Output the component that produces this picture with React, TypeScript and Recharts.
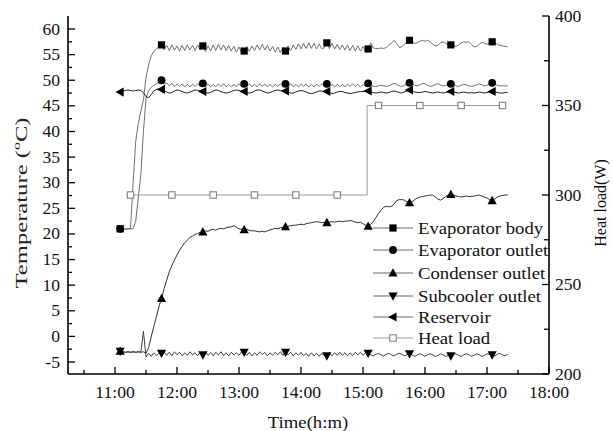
import React from "react";
import { LineChart, Line, XAxis, YAxis, Legend } from "recharts";

const FONT = "'Liberation Serif', 'Times New Roman', serif";

// time grid in minutes after midnight (11:05 ... 17:20, every 2.5 min)
const minutes = [
  665, 667.5, 670, 672.5, 675, 677.5, 680, 682.5, 685, 687.5, 690, 692.5, 695, 697.5, 700, 702.5,
  705, 707.5, 710, 712.5, 715, 717.5, 720, 722.5, 725, 727.5, 730, 732.5, 735, 737.5, 740, 742.5,
  745, 747.5, 750, 752.5, 755, 757.5, 760, 762.5, 765, 767.5, 770, 772.5, 775, 777.5, 780, 782.5,
  785, 787.5, 790, 792.5, 795, 797.5, 800, 802.5, 805, 807.5, 810, 812.5, 815, 817.5, 820, 822.5,
  825, 827.5, 830, 832.5, 835, 837.5, 840, 842.5, 845, 847.5, 850, 852.5, 855, 857.5, 860, 862.5,
  865, 867.5, 870, 872.5, 875, 877.5, 880, 882.5, 885, 887.5, 890, 892.5, 895, 897.5, 900, 902.5,
  905, 907.5, 910, 912.5, 915, 917.5, 920, 922.5, 925, 927.5, 930, 932.5, 935, 937.5, 940, 942.5,
  945, 947.5, 950, 952.5, 955, 957.5, 960, 962.5, 965, 967.5, 970, 972.5, 975, 977.5, 980, 982.5,
  985, 987.5, 990, 992.5, 995, 997.5, 1000, 1002.5, 1005, 1007.5, 1010, 1012.5, 1015, 1017.5, 1020, 1022.5,
  1025, 1027.5, 1030, 1032.5, 1035, 1037.5, 1040,
];

const evaporatorBody = [
  21.0, 21.0, 20.9, 21.0, 21.0, 30.0, 38.0, 41.5, 44.0, 46.2, 50.5, 53.0, 54.8, 55.6, 56.1, 56.5,
  56.9, 55.9, 56.8, 55.8, 56.9, 55.9, 56.7, 55.7, 56.8, 55.8, 56.9, 55.9, 56.8, 55.8, 56.9, 55.9,
  56.7, 55.6, 56.7, 55.7, 56.9, 55.8, 57.0, 55.9, 56.9, 55.8, 56.8, 55.7, 56.6, 55.5, 56.5, 55.4,
  55.7, 56.6, 55.6, 56.7, 55.8, 56.9, 55.9, 57.0, 55.9, 56.8, 55.7, 56.6, 55.5, 56.5, 55.4, 56.4,
  55.7, 56.7, 55.8, 56.9, 56.0, 57.1, 56.1, 57.2, 56.2, 57.3, 56.2, 57.2, 56.1, 57.1, 56.2, 56.3,
  57.3, 56.2, 57.2, 56.1, 57.0, 56.0, 56.9, 55.9, 56.9, 55.8, 56.8, 55.7, 56.7, 55.7, 56.6, 55.6,
  56.1, 57.3, 56.3, 56.2, 56.2, 56.3, 56.2, 56.4, 56.9, 57.2, 57.8, 57.2, 56.4, 56.5, 57.0, 57.5,
  57.8, 57.5, 57.2, 57.3, 57.6, 57.8, 57.6, 57.8, 57.5, 57.0, 56.7, 56.8, 57.3, 57.5, 57.2, 56.9,
  56.9, 56.7, 56.6, 56.9, 57.3, 57.5, 57.4, 57.5, 57.0, 56.5, 56.6, 57.0, 57.4, 57.2, 57.0, 57.3,
  57.5, 57.3, 57.0, 56.8, 56.7, 56.6, 56.5,
];

const evaporatorOutlet = [
  21.0, 21.0, 21.0, 21.0, 21.0, 21.0, 22.5, 27.0, 31.5, 40.0, 46.5, 48.0, 48.6, 49.0, 49.3, 49.6,
  50.0, 49.2, 49.5, 48.9, 49.4, 48.8, 49.3, 48.8, 49.3, 48.7, 49.2, 48.7, 49.2, 48.8, 49.3, 48.8,
  49.4, 48.8, 49.3, 48.7, 49.2, 48.7, 49.3, 48.8, 49.3, 48.7, 49.2, 48.7, 49.2, 48.8, 49.3, 48.8,
  49.3, 48.8, 49.3, 48.7, 49.2, 48.7, 49.3, 48.8, 49.3, 48.7, 49.2, 48.7, 49.2, 48.8, 49.3, 48.8,
  49.3, 48.8, 49.3, 48.7, 49.2, 48.7, 49.3, 48.8, 49.3, 48.7, 49.2, 48.7, 49.2, 48.8, 49.3, 48.8,
  49.3, 48.7, 49.2, 48.7, 49.2, 48.7, 49.2, 48.7, 49.2, 48.8, 49.3, 48.8, 49.2, 48.7, 49.2, 48.8,
  49.4, 49.0, 48.8, 48.8, 48.9, 49.0, 48.9, 48.8, 48.9, 49.2, 49.4, 49.2, 48.9, 48.8, 49.0, 49.3,
  49.5, 49.3, 49.0, 48.9, 49.1, 49.4, 49.3, 49.0, 48.8, 48.9, 49.2, 49.3, 49.1, 48.9, 49.0, 49.2,
  49.3, 49.1, 48.9, 48.8, 49.0, 49.2, 49.1, 48.9, 48.8, 48.9, 49.1, 49.3, 49.1, 48.9, 49.0, 49.3,
  49.5, 49.3, 49.0, 48.9, 48.9, 48.9, 48.9,
];

const condenserOutlet = [
  -2.9, -3.0, -3.1, -3.0, -3.1, -3.0, -3.1, -3.0, -3.1, -3.0, -3.3, -2.2, -0.1, 1.9, 3.8, 5.8,
  7.4, 9.3, 11.0, 12.6, 13.8, 14.9, 15.9, 16.8, 17.6, 18.3, 18.8, 19.3, 19.6, 19.9, 20.1, 20.3,
  20.4, 20.6, 20.5, 20.8, 20.9, 20.7, 21.0, 21.1, 21.0, 21.2, 21.3, 21.4, 21.6, 21.3, 21.0, 20.9,
  20.8, 20.9, 20.7, 20.6, 20.6, 20.5, 20.4, 20.5, 20.4, 20.6, 20.8, 20.9, 21.1, 21.0, 21.2, 21.3,
  21.4, 21.5, 21.6, 21.7, 21.7, 21.8, 21.9, 21.8, 22.0, 22.1, 22.2, 22.3, 22.4, 22.3, 22.2, 22.3,
  22.2, 22.3, 22.4, 22.3, 22.4, 22.5, 22.4, 22.5, 22.5, 22.6, 22.5, 22.3, 22.2, 22.3, 22.0, 21.7,
  21.5, 21.9, 22.4, 23.2, 24.0, 24.7, 25.2, 25.4, 25.3, 25.4, 25.8, 26.5, 26.7, 26.7, 26.6, 26.3,
  26.1, 26.3, 26.7, 27.0, 27.2, 27.3, 27.4, 27.5, 27.6, 27.6, 27.2, 26.8, 26.6, 26.9, 27.3, 27.6,
  27.7, 27.6, 27.4, 27.3, 27.2, 27.3, 27.4, 27.3, 27.3, 27.4, 27.5, 27.6, 27.4, 27.2, 27.0, 26.7,
  26.5, 26.8, 27.2, 27.4, 27.5, 27.6, 27.6,
];

const subcoolerOutlet = [
  -2.9, -3.0, -3.1, -3.0, -3.1, -3.0, -3.1, -3.0, -3.1, 1.0, -4.0, -3.3, -3.9, -3.2, -3.8, -3.3,
  -3.3, -3.0, -3.7, -3.1, -3.8, -3.0, -3.6, -3.1, -3.8, -3.2, -3.7, -3.0, -3.6, -3.2, -3.8, -3.1,
  -3.6, -3.0, -3.7, -3.2, -3.8, -3.1, -3.6, -3.0, -3.7, -3.2, -3.8, -3.1, -3.6, -3.2, -3.7, -3.0,
  -3.1, -3.7, -3.1, -3.8, -3.2, -3.7, -3.0, -3.6, -3.1, -3.8, -3.2, -3.7, -3.1, -3.6, -3.0, -3.7,
  -3.1, -3.6, -3.1, -3.8, -3.2, -3.7, -3.1, -3.8, -3.3, -3.9, -3.2, -3.8, -3.3, -3.9, -3.3, -3.7,
  -3.8, -3.2, -3.8, -3.2, -3.7, -3.1, -3.7, -3.2, -3.8, -3.2, -3.7, -3.1, -3.6, -3.1, -3.7, -3.2,
  -3.3, -3.6, -3.8, -3.5, -3.3, -3.6, -3.8, -3.5, -3.3, -3.6, -3.8, -3.5, -3.3, -3.5, -3.8, -3.6,
  -3.4, -3.6, -3.9, -3.6, -3.4, -3.6, -3.9, -3.6, -3.4, -3.6, -3.9, -3.7, -3.4, -3.6, -3.9, -3.7,
  -3.8, -3.5, -3.4, -3.7, -3.9, -3.6, -3.4, -3.6, -3.9, -3.7, -3.4, -3.6, -3.9, -3.7, -3.4, -3.5,
  -3.6, -3.8, -3.5, -3.3, -3.6, -3.8, -3.5,
];

const reservoir = [
  47.7, 47.9, 48.0, 48.1, 48.0, 47.9, 48.0, 48.1, 48.0, 47.6, 46.8, 46.6, 47.2, 47.9, 48.2, 48.3,
  48.2, 48.0, 47.7, 47.5, 47.6, 47.9, 48.1, 48.0, 47.8, 47.6, 47.5, 47.7, 47.9, 48.1, 48.0, 47.9,
  47.8, 47.6, 47.5, 47.6, 47.9, 48.1, 48.0, 47.8, 47.6, 47.5, 47.6, 47.8, 48.0, 48.1, 48.0, 47.9,
  47.8, 47.6, 47.5, 47.6, 47.9, 48.1, 48.1, 47.9, 47.7, 47.5, 47.6, 47.8, 48.0, 48.1, 48.0, 47.9,
  47.9, 47.7, 47.5, 47.5, 47.7, 47.9, 48.0, 47.9, 47.7, 47.5, 47.4, 47.5, 47.7, 47.9, 47.9, 47.8,
  47.8, 47.6, 47.4, 47.5, 47.7, 47.8, 47.8, 47.6, 47.5, 47.4, 47.5, 47.6, 47.7, 47.8, 47.8, 47.8,
  47.9, 47.7, 47.6, 47.5, 47.6, 47.7, 47.6, 47.5, 47.6, 47.8, 47.9, 47.8, 47.6, 47.5, 47.7, 47.9,
  48.1, 47.9, 47.7, 47.6, 47.6, 47.7, 47.8, 47.7, 47.6, 47.5, 47.6, 47.7, 47.6, 47.5, 47.6, 47.7,
  47.8, 47.7, 47.6, 47.5, 47.6, 47.7, 47.6, 47.5, 47.6, 47.5, 47.6, 47.7, 47.6, 47.5, 47.6, 47.7,
  47.8, 47.7, 47.6, 47.5, 47.5, 47.6, 47.6,
];

// indices of the grid that carry a symbol (every 40 min from 11:05)
const markerIndex = [0, 16, 32, 48, 64, 80, 96, 112, 128, 144];

// heat load (W), step series
const heatLoadMinutes = [671, 675, 715, 755, 795, 835, 875, 904, 904, 915, 955, 995, 1035];
const heatLoadValues = [300, 300, 300, 300, 300, 300, 300, 300, 350, 350, 350, 350, 350];
const heatLoadMarkerIndex = [1, 2, 3, 4, 5, 6, 9, 10, 11, 12];

// axis ticks
const timeMajorTicks = [660, 720, 780, 840, 900, 960, 1020, 1080];
const timeMajorLabels = ["11:00", "12:00", "13:00", "14:00", "15:00", "16:00", "17:00", "18:00"];
const timeMinorTicks = [630, 690, 750, 810, 870, 930, 990, 1050];
const tempMajorTicks = [-5, 0, 5, 10, 15, 20, 25, 30, 35, 40, 45, 50, 55, 60];
const tempMinorTicks = [-2.5, 2.5, 7.5, 12.5, 17.5, 22.5, 27.5, 32.5, 37.5, 42.5, 47.5, 52.5, 57.5];
const heatMajorTicks = [200, 250, 300, 350, 400];
const heatMinorTicks = [225, 275, 325, 375];

const seriesNames = [
  "Evaporator body",
  "Evaporator outlet",
  "Condenser outlet",
  "Subcooler outlet",
  "Reservoir",
  "Heat load",
];

const tableData = minutes.map((t, i) => ({
  t,
  eb: evaporatorBody[i],
  eo: evaporatorOutlet[i],
  co: condenserOutlet[i],
  sc: subcoolerOutlet[i],
  rs: reservoir[i],
}));
const heatData = heatLoadMinutes.map((t, i) => ({ t, hl: heatLoadValues[i] }));

const markerSet = new Set(markerIndex);
const heatMarkerSet = new Set(heatLoadMarkerIndex);

type Kind = "square" | "circle" | "up" | "down" | "left" | "hollow";

const Marker = ({ kind, cx, cy }: { kind: Kind; cx: number; cy: number }) => {
  const s = 4.3;
  switch (kind) {
    case "square":
      return <rect x={cx - 3.6} y={cy - 3.6} width={7.2} height={7.2} fill="#000" />;
    case "circle":
      return <circle cx={cx} cy={cy} r={3.9} fill="#000" />;
    case "up":
      return <polygon points={`${cx},${cy - s - 0.5} ${cx - s - 0.3},${cy + s - 0.8} ${cx + s + 0.3},${cy + s - 0.8}`} fill="#000" />;
    case "down":
      return <polygon points={`${cx},${cy + s + 0.5} ${cx - s - 0.3},${cy - s + 0.8} ${cx + s + 0.3},${cy - s + 0.8}`} fill="#000" />;
    case "left":
      return <polygon points={`${cx - s - 0.5},${cy} ${cx + s - 0.8},${cy - s - 0.3} ${cx + s - 0.8},${cy + s + 0.3}`} fill="#000" />;
    case "hollow":
      return <rect x={cx - 3.2} y={cy - 3.2} width={6.4} height={6.4} fill="#fff" stroke="#777" strokeWidth={1} />;
  }
  return null;
};

const makeDot = (kind: Kind, set: Set<number>) => (p: any) => {
  if (!set.has(p.index) || p.cx == null || p.cy == null) return <g key={`n${kind}${p.index}`} />;
  return (
    <g key={`m${kind}${p.index}`}>
      <Marker kind={kind} cx={p.cx} cy={p.cy} />
    </g>
  );
};

const XTick = (p: any) => {
  const { x, y, payload } = p;
  const v = payload.value;
  const mi = timeMajorTicks.indexOf(v);
  const major = mi >= 0;
  return (
    <g>
      <line x1={x} y1={y} x2={x} y2={y - (major ? 7 : 4)} stroke="#000" strokeWidth={1.3} />
      {major && (
        <text transform={`translate(${x} ${y + 23.5}) scale(1.1 1)`} textAnchor="middle" fontSize={16} fontFamily={FONT} fill="#111">
          {timeMajorLabels[mi]}
        </text>
      )}
    </g>
  );
};

const LeftTick = (p: any) => {
  const { x, y, payload } = p;
  const v = payload.value;
  const major = tempMajorTicks.indexOf(v) >= 0;
  return (
    <g>
      <line x1={x} y1={y} x2={x + (major ? 7 : 4)} y2={y} stroke="#000" strokeWidth={1.3} />
      {major && (
        <text transform={`translate(${x - 8} ${y + 5.5}) scale(1.1 1)`} textAnchor="end" fontSize={16} fontFamily={FONT} fill="#111">
          {String(v)}
        </text>
      )}
    </g>
  );
};

const RightTick = (p: any) => {
  const { x, y, payload } = p;
  const v = payload.value;
  const major = heatMajorTicks.indexOf(v) >= 0;
  return (
    <g>
      <line x1={x} y1={y} x2={x - (major ? 7 : 5)} y2={y} stroke="#000" strokeWidth={1.3} />
      {major && (
        <text transform={`translate(${x + 6} ${y + 5.5}) scale(1.1 1)`} textAnchor="start" fontSize={16} fontFamily={FONT} fill="#111">
          {String(v)}
        </text>
      )}
    </g>
  );
};

const legendKinds: Kind[] = ["square", "circle", "up", "down", "left", "hollow"];
const legendLeft = 365;
const legendTop = 212;
const legendRowY = [228, 250, 273, 296, 317, 338];

const LegendContent = () => (
  <svg width={200} height={140} style={{ display: "block", overflow: "visible" }}>
    {seriesNames.map((name, i) => {
      const y = legendRowY[i] - legendTop;
      const x0 = 373 - legendLeft;
      return (
        <g key={name}>
          <line x1={x0} y1={y} x2={x0 + 40} y2={y} stroke={i === 5 ? "#999" : "#666"} strokeWidth={1} />
          <Marker kind={legendKinds[i]} cx={x0 + 20} cy={y} />
          <text transform={`translate(${418 - legendLeft} ${y + 6}) scale(1.1 1)`} fontSize={17} fontFamily={FONT} fill="#111">
            {name}
          </text>
        </g>
      );
    })}
  </svg>
);

const axisLineStyle = { stroke: "#000", strokeWidth: 1.6 };

export default function App() {
  return (
    <div style={{ position: "absolute", left: 0, top: 0, width: 613, height: 431, background: "#fff" }}>
      <LineChart width={613} height={431} data={tableData} margin={{ top: 16, right: 0, bottom: 0, left: 0 }}>
        <XAxis
          dataKey="t"
          type="number"
          domain={[614.5, 1080]}
          ticks={[...timeMinorTicks, ...timeMajorTicks].sort((a, b) => a - b)}
          interval={0}
          allowDataOverflow
          height={57}
          tickSize={0}
          tickMargin={0}
          tickLine={false}
          axisLine={axisLineStyle}
          tick={<XTick />}
        />
        <XAxis
          xAxisId="top"
          orientation="top"
          type="number"
          domain={[614.5, 1080]}
          height={0}
          tick={false}
          tickLine={false}
          axisLine={axisLineStyle}
        />
        <YAxis
          yAxisId="left"
          type="number"
          domain={[-7.34, 62.54]}
          ticks={[...tempMinorTicks, ...tempMajorTicks].sort((a, b) => a - b)}
          interval={0}
          allowDataOverflow
          width={68}
          tickSize={0}
          tickMargin={0}
          tickLine={false}
          axisLine={axisLineStyle}
          tick={<LeftTick />}
        />
        <YAxis
          yAxisId="right"
          orientation="right"
          type="number"
          domain={[200, 400]}
          ticks={[...heatMinorTicks, ...heatMajorTicks].sort((a, b) => a - b)}
          interval={0}
          allowDataOverflow
          width={64}
          tickSize={0}
          tickMargin={0}
          tickLine={false}
          axisLine={axisLineStyle}
          tick={<RightTick />}
        />
        <Legend
          layout="horizontal"
          align="center"
          verticalAlign="middle"
          content={<LegendContent />}
          wrapperStyle={{ position: "absolute", left: legendLeft, top: legendTop, width: 200, height: 140 }}
        />
        <Line yAxisId="left" dataKey="eb" name={seriesNames[0]} stroke="#707070" strokeWidth={1} dot={makeDot("square", markerSet)} activeDot={false} isAnimationActive={false} />
        <Line yAxisId="left" dataKey="eo" name={seriesNames[1]} stroke="#707070" strokeWidth={1} dot={makeDot("circle", markerSet)} activeDot={false} isAnimationActive={false} />
        <Line yAxisId="left" dataKey="co" name={seriesNames[2]} stroke="#303030" strokeWidth={1} dot={makeDot("up", markerSet)} activeDot={false} isAnimationActive={false} />
        <Line yAxisId="left" dataKey="sc" name={seriesNames[3]} stroke="#404040" strokeWidth={1} dot={makeDot("down", markerSet)} activeDot={false} isAnimationActive={false} />
        <Line yAxisId="left" dataKey="rs" name={seriesNames[4]} stroke="#202020" strokeWidth={1} dot={makeDot("left", markerSet)} activeDot={false} isAnimationActive={false} />
        <Line yAxisId="right" data={heatData} dataKey="hl" name={seriesNames[5]} stroke="#999" strokeWidth={1} dot={makeDot("hollow", heatMarkerSet)} activeDot={false} isAnimationActive={false} />
        <text transform="translate(308 428) scale(1.1 1)" textAnchor="middle" fontSize={17} fontFamily={FONT} fill="#111">
          Time(h:m)
        </text>
        <text transform="translate(606 203) rotate(-90)" textAnchor="middle" fontSize={16} fontFamily={FONT} fill="#111">
          Heat load(W)
        </text>
        <text transform="translate(26.5 203) rotate(-90) scale(1.45 1)" textAnchor="middle" fontSize={17} fontFamily={FONT} fill="#222">
          Temperature (<tspan fontSize={11} dy={-7}>o</tspan>
          <tspan dy={7}>C)</tspan>
        </text>
      </LineChart>
    </div>
  );
}
